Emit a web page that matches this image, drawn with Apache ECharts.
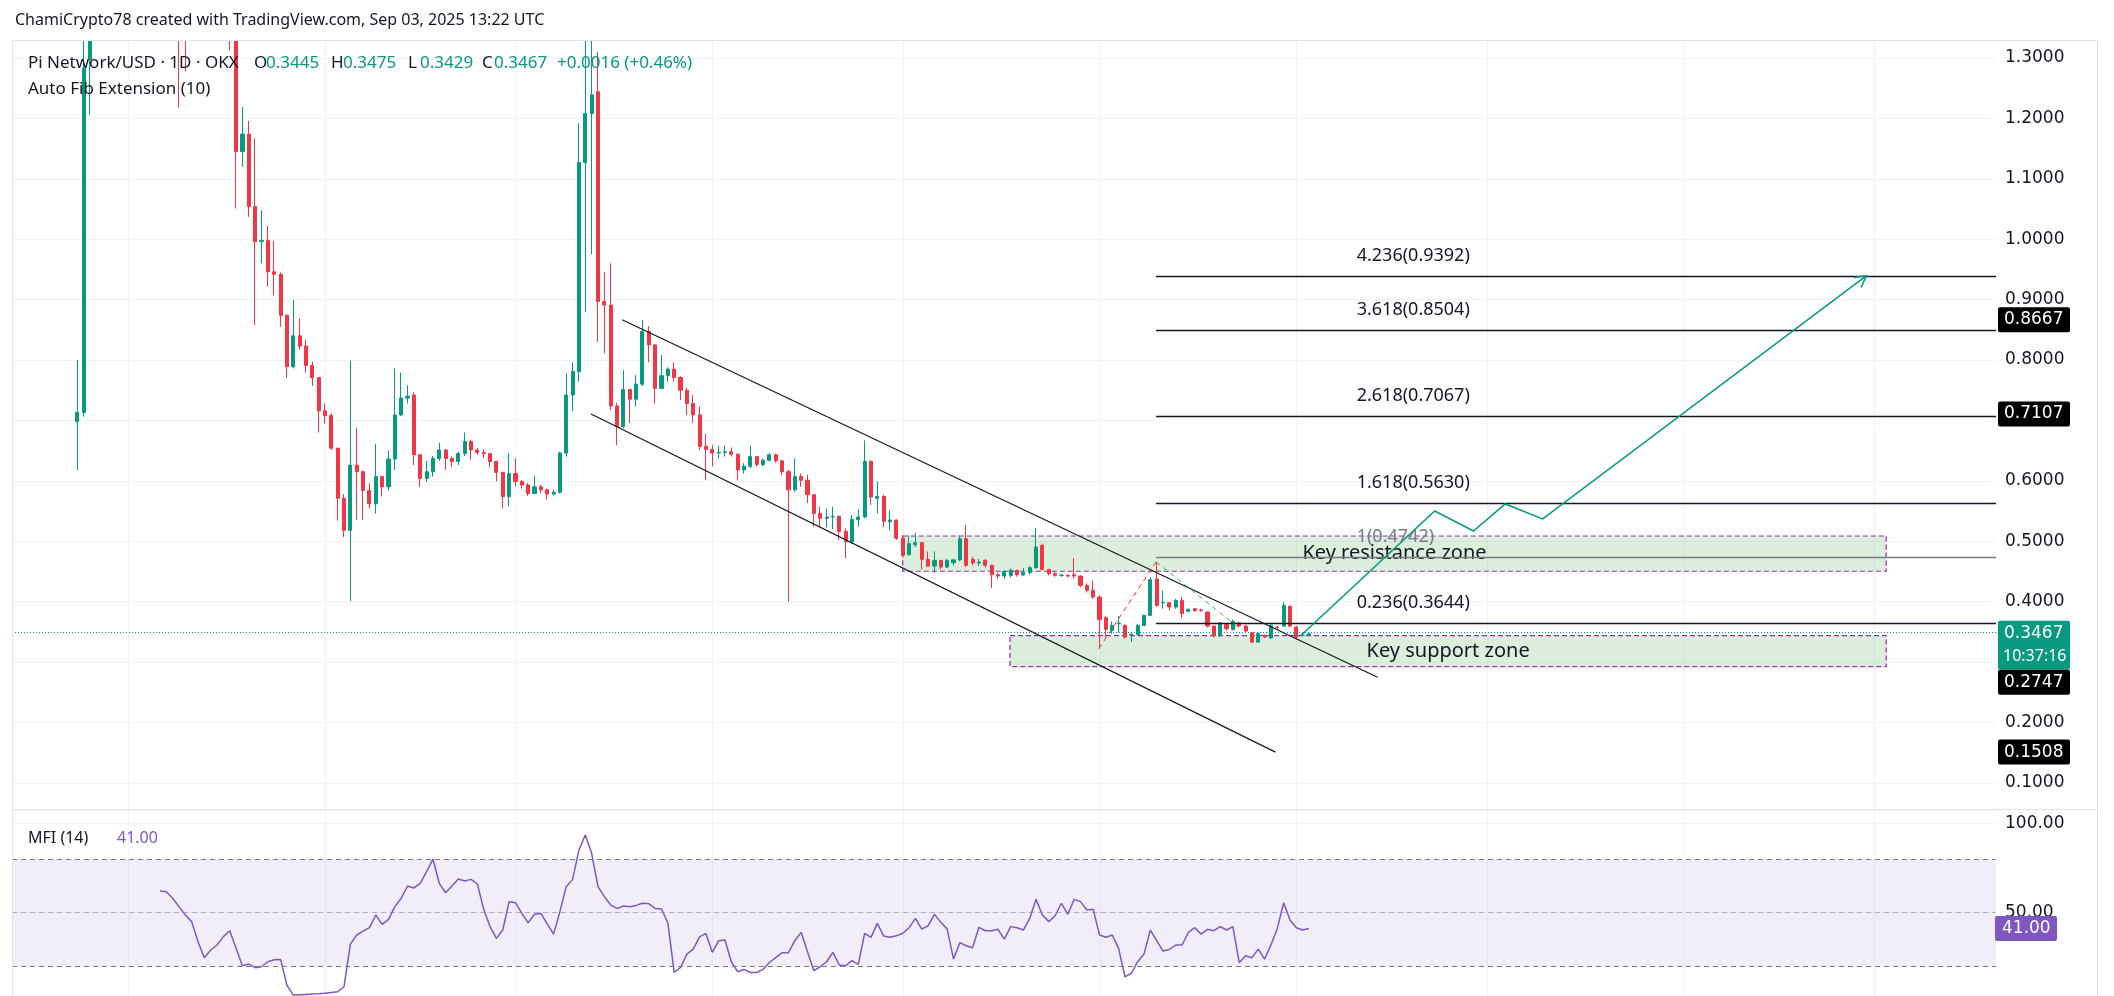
<!DOCTYPE html>
<html>
<head>
<meta charset="utf-8">
<title>Pi Network/USD 1D</title>
<script src="https://cdn.jsdelivr.net/npm/echarts/dist/echarts.min.js"></script>
<style>
  html, body { margin: 0; padding: 0; background: #ffffff; }
  #chart { width: 2114px; height: 996px; }
</style>
</head>
<body>
<div id="chart"></div>
<script>
/* daily candles, index 0 = first bar on the chart */
var opens = [
  0.698, 0.713, 1.297, 1.64, 1.78, 1.61, 2.05, 2.72, 2.15, 1.80,
  2.05, 2.15, 1.98, 1.90, 1.75, 1.62, 1.52, 1.42, 1.38, 1.58,
  1.72, 1.68, 1.56, 1.52, 1.48, 1.40, 1.145, 1.174, 1.054, 0.996,
  0.998, 0.946, 0.942, 0.874, 0.789, 0.840, 0.823, 0.791, 0.771, 0.716,
  0.708, 0.654, 0.571, 0.518, 0.626, 0.615, 0.584, 0.562, 0.607, 0.590,
  0.636, 0.709, 0.737, 0.742, 0.643, 0.604, 0.615, 0.637, 0.651, 0.637,
  0.632, 0.645, 0.665, 0.651, 0.647, 0.645, 0.632, 0.614, 0.574, 0.612,
  0.599, 0.593, 0.579, 0.590, 0.585, 0.578, 0.581, 0.646, 0.742, 0.781,
  1.127, 1.208, 1.244, 0.897, 0.891, 0.724, 0.690, 0.751, 0.735, 0.760,
  0.847, 0.825, 0.753, 0.774, 0.785, 0.771, 0.750, 0.728, 0.709, 0.657,
  0.652, 0.646, 0.647, 0.648, 0.644, 0.618, 0.624, 0.640, 0.627, 0.634,
  0.643, 0.633, 0.615, 0.585, 0.607, 0.601, 0.577, 0.546, 0.538, 0.540,
  0.541, 0.516, 0.499, 0.536, 0.540, 0.632, 0.571, 0.574, 0.532, 0.535,
  0.505, 0.4775, 0.4942, 0.4975, 0.4699, 0.4588, 0.4682, 0.4572, 0.4645, 0.4690,
  0.5041, 0.4700, 0.4638, 0.4682, 0.4600, 0.4445, 0.4423, 0.4434, 0.4517, 0.4440,
  0.4480, 0.4561, 0.4931, 0.4533, 0.4462, 0.4434, 0.4438, 0.4445, 0.4423, 0.4268,
  0.4186, 0.4075, 0.3733, 0.3523, 0.3634, 0.3606, 0.3452, 0.3452, 0.3606, 0.3772,
  0.4373, 0.3981, 0.3981, 0.3910, 0.4020, 0.3838, 0.3882, 0.3860, 0.3827, 0.3595,
  0.3430, 0.3617, 0.3540, 0.3645, 0.3595, 0.3485, 0.3330, 0.3441, 0.3396, 0.3579,
  0.3595, 0.3921, 0.3579, 0.3441, 0.3445
];
var highs = [
  0.800, 1.620, 1.800, 1.850, 1.840, 2.100, 2.990, 2.800, 2.200, 2.150,
  2.300, 2.200, 2.050, 1.950, 1.800, 1.660, 1.580, 1.500, 1.620, 1.780,
  1.800, 1.700, 1.600, 1.550, 1.500, 1.420, 1.219, 1.196, 1.167, 1.048,
  1.022, 0.997, 0.945, 0.875, 0.900, 0.869, 0.834, 0.797, 0.772, 0.728,
  0.712, 0.654, 0.578, 0.799, 0.688, 0.617, 0.596, 0.661, 0.608, 0.650,
  0.786, 0.779, 0.758, 0.747, 0.644, 0.633, 0.641, 0.663, 0.652, 0.640,
  0.648, 0.680, 0.668, 0.654, 0.652, 0.646, 0.632, 0.614, 0.646, 0.637,
  0.601, 0.596, 0.608, 0.593, 0.587, 0.585, 0.648, 0.778, 0.796, 1.192,
  1.420, 1.670, 1.310, 0.946, 0.960, 0.729, 0.783, 0.752, 0.775, 0.866,
  0.856, 0.826, 0.808, 0.788, 0.796, 0.773, 0.754, 0.742, 0.723, 0.678,
  0.659, 0.658, 0.658, 0.655, 0.645, 0.629, 0.658, 0.641, 0.637, 0.646,
  0.645, 0.634, 0.618, 0.637, 0.612, 0.610, 0.577, 0.557, 0.554, 0.557,
  0.543, 0.521, 0.543, 0.553, 0.667, 0.634, 0.599, 0.577, 0.551, 0.536,
  0.510, 0.5096, 0.5135, 0.4985, 0.4831, 0.4831, 0.4690, 0.4710, 0.4710, 0.5096,
  0.5273, 0.4740, 0.4704, 0.4704, 0.4610, 0.4478, 0.4517, 0.4550, 0.4528, 0.4560,
  0.4588, 0.5218, 0.4958, 0.4540, 0.4489, 0.4456, 0.4445, 0.4721, 0.4434, 0.4301,
  0.4351, 0.4103, 0.3761, 0.3672, 0.3761, 0.3620, 0.3496, 0.3634, 0.3786, 0.4400,
  0.4657, 0.4186, 0.3995, 0.4040, 0.4075, 0.3890, 0.3890, 0.3880, 0.3835, 0.3600,
  0.3660, 0.3630, 0.3705, 0.3661, 0.3617, 0.3496, 0.3485, 0.3452, 0.3625, 0.3595,
  0.3993, 0.3937, 0.3595, 0.3474, 0.3475
];
var lows = [
  0.618, 0.706, 1.206, 1.550, 1.520, 1.580, 2.000, 1.950, 1.700, 1.700,
  2.000, 1.900, 1.800, 1.650, 1.550, 1.400, 1.218, 1.278, 1.360, 1.550,
  1.620, 1.500, 1.450, 1.400, 1.313, 1.051, 1.120, 1.037, 0.858, 0.960,
  0.922, 0.907, 0.855, 0.770, 0.786, 0.817, 0.779, 0.757, 0.680, 0.695,
  0.651, 0.534, 0.507, 0.401, 0.535, 0.535, 0.554, 0.546, 0.574, 0.584,
  0.618, 0.707, 0.728, 0.626, 0.590, 0.598, 0.607, 0.633, 0.618, 0.623,
  0.626, 0.641, 0.635, 0.643, 0.638, 0.623, 0.599, 0.554, 0.558, 0.591,
  0.587, 0.575, 0.578, 0.579, 0.569, 0.576, 0.579, 0.640, 0.715, 0.764,
  0.880, 0.975, 0.830, 0.811, 0.717, 0.659, 0.687, 0.696, 0.723, 0.757,
  0.796, 0.728, 0.752, 0.764, 0.764, 0.734, 0.709, 0.696, 0.651, 0.601,
  0.624, 0.637, 0.640, 0.640, 0.601, 0.612, 0.621, 0.623, 0.624, 0.632,
  0.630, 0.610, 0.400, 0.582, 0.590, 0.563, 0.524, 0.523, 0.523, 0.520,
  0.502, 0.472, 0.495, 0.524, 0.538, 0.560, 0.546, 0.523, 0.518, 0.502,
  0.474, 0.4760, 0.4903, 0.4533, 0.4572, 0.4478, 0.4533, 0.4555, 0.4600, 0.4666,
  0.4572, 0.4600, 0.4588, 0.4561, 0.4224, 0.4379, 0.4379, 0.4400, 0.4412, 0.4430,
  0.4445, 0.4544, 0.4517, 0.4434, 0.4412, 0.4412, 0.4401, 0.4379, 0.4240, 0.4150,
  0.4048, 0.3220, 0.3413, 0.3468, 0.3490, 0.3385, 0.3330, 0.3441, 0.3595, 0.3760,
  0.3915, 0.3882, 0.3855, 0.3880, 0.3728, 0.3820, 0.3830, 0.3830, 0.3570, 0.3410,
  0.3420, 0.3520, 0.3520, 0.3570, 0.3490, 0.3310, 0.3313, 0.3396, 0.3390, 0.3540,
  0.3579, 0.3570, 0.3374, 0.3424, 0.3429
];
var closes = [
  0.713, 1.283, 1.640, 1.780, 1.610, 2.050, 2.720, 2.150, 1.800, 2.050,
  2.150, 1.980, 1.900, 1.750, 1.620, 1.520, 1.420, 1.380, 1.580, 1.720,
  1.680, 1.560, 1.520, 1.480, 1.400, 1.145, 1.174, 1.054, 0.996, 0.998,
  0.946, 0.942, 0.874, 0.789, 0.840, 0.823, 0.791, 0.771, 0.716, 0.708,
  0.654, 0.571, 0.518, 0.626, 0.615, 0.584, 0.562, 0.607, 0.590, 0.636,
  0.709, 0.737, 0.740, 0.643, 0.604, 0.615, 0.637, 0.651, 0.637, 0.632,
  0.645, 0.665, 0.651, 0.647, 0.645, 0.632, 0.614, 0.574, 0.612, 0.599,
  0.593, 0.579, 0.590, 0.585, 0.578, 0.581, 0.646, 0.742, 0.781, 1.127,
  1.208, 1.239, 0.897, 0.891, 0.724, 0.690, 0.751, 0.735, 0.760, 0.847,
  0.825, 0.753, 0.774, 0.785, 0.771, 0.750, 0.728, 0.709, 0.657, 0.652,
  0.646, 0.647, 0.648, 0.644, 0.618, 0.624, 0.640, 0.627, 0.634, 0.643,
  0.633, 0.615, 0.585, 0.607, 0.601, 0.577, 0.546, 0.538, 0.540, 0.541,
  0.516, 0.499, 0.536, 0.540, 0.632, 0.573, 0.574, 0.533, 0.535, 0.505,
  0.4765, 0.4958, 0.4975, 0.4699, 0.4588, 0.4682, 0.4572, 0.4682, 0.4690, 0.5041,
  0.4600, 0.4638, 0.4655, 0.4600, 0.4445, 0.4423, 0.4500, 0.4517, 0.4445, 0.4480,
  0.4561, 0.4903, 0.4533, 0.4462, 0.4434, 0.4438, 0.4423, 0.4423, 0.4268, 0.4186,
  0.4075, 0.3705, 0.3540, 0.3606, 0.3645, 0.3413, 0.3458, 0.3606, 0.3772, 0.4362,
  0.3937, 0.3987, 0.3910, 0.4020, 0.3800, 0.3871, 0.3855, 0.3852, 0.3595, 0.3430,
  0.3645, 0.3551, 0.3672, 0.3595, 0.3512, 0.3330, 0.3468, 0.3413, 0.3606, 0.3572,
  0.3937, 0.3595, 0.3413, 0.3445, 0.3467
];

/* MFI(14), first value sits on bar 13 */
var mfiStart = 13;
var mfiValues = [
  62.1, 61.7, 58.0, 53.3, 48.6, 44.9, 33.6, 24.7, 29.0, 31.8,
  36.5, 39.8, 29.9, 20.2, 21.1, 19.1, 19.6, 22.4, 23.5, 23.7,
  9.3, 3.7, 3.9, 4.1, 4.3, 4.5, 4.8, 5.2, 5.6, 8.4,
  32.3, 37.4, 39.6, 41.5, 48.6, 43.4, 46.2, 53.3, 58.0, 64.9,
  63.8, 66.4, 72.9, 80.0, 66.4, 61.1, 64.9, 68.8, 67.7, 68.6,
  66.0, 51.8, 42.1, 35.5, 40.2, 56.1, 55.5, 49.5, 44.3, 49.0,
  49.5, 43.6, 37.9, 50.5, 64.5, 68.6, 85.1, 93.5, 83.2, 64.5,
  58.9, 54.2, 52.3, 53.6, 53.3, 54.0, 55.2, 55.0, 52.3, 52.0,
  44.3, 16.4, 19.2, 26.7, 29.5, 36.4, 38.3, 27.7, 34.2, 34.6,
  22.4, 16.8, 18.1, 16.4, 16.4, 18.1, 22.0, 24.7, 27.5, 27.5,
  34.2, 38.9, 28.0, 17.4, 19.6, 22.4, 27.7, 20.6, 20.2, 23.0,
  20.9, 38.3, 36.1, 43.9, 36.8, 36.1, 37.0, 38.3, 41.5, 46.7,
  40.7, 42.6, 49.0, 44.5, 40.7, 23.9, 33.1, 31.4, 30.3, 41.7,
  39.8, 39.8, 40.6, 35.1, 42.1, 41.5, 40.2, 46.7, 57.4, 48.6,
  44.9, 48.2, 55.2, 49.0, 57.4, 56.1, 51.4, 51.8, 37.4, 36.1,
  37.4, 29.9, 14.0, 15.9, 22.4, 26.7, 40.2, 34.2, 28.4, 29.3,
  31.8, 31.8, 38.9, 41.5, 37.9, 40.6, 39.8, 42.1, 40.2, 42.1,
  21.9, 25.8, 24.7, 29.5, 23.9, 31.8, 41.1, 55.5, 45.8, 41.5,
  40.2, 41.0
];

/* bars where a new month starts (vertical grid) */
var monthStarts = [8, 39, 69, 100, 130, 161, 192, 222, 253, 283];

/* auto fib extension levels */
var fibRatios = ['0.236', '1', '1.618', '2.618', '3.618', '4.236'];
var fibPrices = [0.3644, 0.4742, 0.5630, 0.7067, 0.8504, 0.9392];

/* drawings: [bar, price] */
var channelUpper = [[85.8, 0.8667], [204.8, 0.2747]];
var channelLower = [[80.9, 0.7107], [188.7, 0.1508]];
var fibLegUp = [[160.9, 0.3220], [169.9, 0.4657]];
var fibLegDown = [[169.9, 0.4657], [182.8, 0.3580]];
var projBars = [192.8, 213.8, 219.9, 224.9, 230.8, 281.8];
var projPrices = [0.3447, 0.5500, 0.5169, 0.5616, 0.5368, 0.9396];
var resistanceZone = [[130, 0.5086], [284.9, 0.4502]];
var supportZone = [[146.9, 0.3436], [284.9, 0.2923]];

var lastPrice = 0.3467;
var priceChange = 0.0016;
var priceChangePct = 0.46;
var countdown = '10:37:16';
var lastMfi = 41.00;
var drawingTags = [0.8667, 0.7107, 0.2747, 0.1508];

var GREEN = '#089981';
var RED = '#f23645';
var INK = '#131722';
var GRID = '#f0f3fa';
var BORDER = '#e0e3eb';
var PURPLE = '#7e57c2';
var FONT = '"Noto Sans", "Open Sans", sans-serif';
var SCALE_FONT = '"DejaVu Sans", "Noto Sans", sans-serif';

var self = '';
var chart = null;

var viewConfig = {

	initialize: function () {
		self = this;
		chart = echarts.init(document.getElementById('chart'), null, { renderer: 'canvas' });
		chart.setOption(self.buildOption());
		self.initGraphic();
	},

	/*vertical month lines, one custom series per pane*/
	monthGrid: function (gridIdx) {
		return {
			type: 'custom', xAxisIndex: gridIdx, yAxisIndex: gridIdx, z: 0, silent: true,
			data: monthStarts.map(function (m) { return [m]; }),
			encode: { x: 0 },
			renderItem: function (params, api) {
				var cs = params.coordSys;
				var x = Math.round(api.coord([api.value(0), 0])[0]) + 0.5;
				return {
					type: 'line',
					shape: { x1: x, y1: cs.y, x2: x, y2: cs.y + cs.height },
					style: { stroke: GRID, lineWidth: 1 }
				};
			}
		};
	},

	buildOption: function () {
		var candles = opens.map(function (o, i) {
			return [i, o, closes[i], lows[i], highs[i]];
		});
		var mfi = mfiValues.map(function (v, i) { return [mfiStart + i, v]; });

		var fibFrom = 169.9;
		var fibTextAt = 201.5;

		return {
			animation: false,
			backgroundColor: '#ffffff',
			textStyle: { fontFamily: FONT },
			grid: [
				{ left: 12, right: 118, top: 40, height: 769, outerBoundsMode: 'none' },
				{ left: 12, right: 118, top: 810, height: 186, outerBoundsMode: 'none' }
			],
			xAxis: [
				{ type: 'value', gridIndex: 0, min: -10.3, max: 302.2, show: false },
				{ type: 'value', gridIndex: 1, min: -10.3, max: 302.2, show: false }
			],
			yAxis: [
				{
					type: 'value', gridIndex: 0, position: 'right',
					min: 0.0566, max: 1.3298, splitNumber: 12, minInterval: 0.1, maxInterval: 0.1,
					axisLine: { show: false }, axisTick: { show: false },
					axisLabel: {
						color: INK, fontSize: 17, fontFamily: SCALE_FONT, margin: 9,
						showMinLabel: false, showMaxLabel: false,
						formatter: function (v) { return v.toFixed(4); }
					},
					splitLine: { lineStyle: { color: GRID, width: 1 } }
				},
				{
					type: 'value', gridIndex: 1, position: 'right',
					min: 3.2, max: 107.5, splitNumber: 2, minInterval: 50, maxInterval: 50,
					axisLine: { show: false }, axisTick: { show: false },
					axisLabel: {
						color: INK, fontSize: 17, fontFamily: SCALE_FONT, margin: 9,
						showMinLabel: false, showMaxLabel: false,
						formatter: function (v) { return v.toFixed(2); }
					},
					splitLine: { lineStyle: { color: GRID, width: 1 } }
				}
			],
			series: [
				self.monthGrid(0),
				self.monthGrid(1),
				{
					type: 'candlestick', name: 'PIUSD', xAxisIndex: 0, yAxisIndex: 0, z: 2,
					data: candles, barWidth: 3.6, clip: true, silent: true,
					itemStyle: {
						color: GREEN, color0: RED, borderColor: GREEN, borderColor0: RED,
						borderColorDoji: GREEN, borderWidth: 1
					},
					markLine: {
						silent: true, symbol: 'none', label: { show: false },
						lineStyle: { color: GREEN, type: [1, 2], width: 1.2 },
						data: [{ yAxis: lastPrice }]
					}
				},
				{
					type: 'line', name: 'zones', xAxisIndex: 0, yAxisIndex: 0, z: 3,
					data: [], silent: true,
					markArea: {
						silent: true,
						itemStyle: {
							color: 'rgba(76,175,80,0.2)', borderColor: '#9c27b0',
							borderWidth: 1.2, borderType: [5, 3]
						},
						label: { show: true, position: 'inside', color: INK, fontSize: 20, fontFamily: FONT },
						data: [
							[{ name: 'Key resistance zone', coord: resistanceZone[0] }, { coord: resistanceZone[1] }],
							[{ name: 'Key support zone', coord: supportZone[0] }, { coord: supportZone[1] }]
						]
					}
				},
				{
					type: 'line', xAxisIndex: 0, yAxisIndex: 0, z: 4, silent: true,
					data: channelUpper, symbol: 'none', lineStyle: { color: INK, width: 1.2 }
				},
				{
					type: 'line', xAxisIndex: 0, yAxisIndex: 0, z: 4, silent: true,
					data: channelLower, symbol: 'none', lineStyle: { color: INK, width: 1.2 }
				},
				{
					type: 'line', xAxisIndex: 0, yAxisIndex: 0, z: 4, silent: true,
					data: fibLegUp, symbol: 'none', lineStyle: { color: RED, width: 1, type: [5, 4] }
				},
				{
					type: 'line', xAxisIndex: 0, yAxisIndex: 0, z: 4, silent: true,
					data: fibLegDown, symbol: 'none', lineStyle: { color: '#4caf50', width: 1, type: [5, 4] }
				},
				{
					/*fib extension lines + labels*/
					type: 'custom', xAxisIndex: 0, yAxisIndex: 0, z: 4, silent: true,
					data: fibPrices.map(function (p, i) { return [i, p]; }),
					encode: { x: 0, y: 1 },
					renderItem: function (params, api) {
						var i = api.value(0);
						var p = api.value(1);
						var cs = params.coordSys;
						var a = api.coord([fibFrom, p]);
						var t = api.coord([fibTextAt, p]);
						var y = Math.round(a[1]) + 0.5;
						var color = fibRatios[i] === '1' ? '#787b86' : INK;
						return {
							type: 'group',
							children: [
								{ type: 'line', shape: { x1: a[0], y1: y, x2: cs.x + cs.width, y2: y },
								  style: { stroke: color, lineWidth: 1.5 } },
								{ type: 'text', x: t[0], y: a[1] - 20,
								  style: { text: fibRatios[i] + '(' + p.toFixed(4) + ')', fill: color,
								           fontSize: 18, fontFamily: FONT, align: 'left', verticalAlign: 'middle' } }
							]
						};
					}
				},
				{
					/*projected path with open arrow head*/
					type: 'custom', xAxisIndex: 0, yAxisIndex: 0, z: 5, silent: true,
					data: [[0]], encode: { x: 0 },
					renderItem: function (params, api) {
						var pts = projBars.map(function (b, i) { return api.coord([b, projPrices[i]]); });
						var tip = pts[pts.length - 1];
						var prev = pts[pts.length - 2];
						var ang = Math.atan2(tip[1] - prev[1], tip[0] - prev[0]);
						var len = 13, spread = 0.5;
						var head = [
							[tip[0] - len * Math.cos(ang - spread), tip[1] - len * Math.sin(ang - spread)],
							tip,
							[tip[0] - len * Math.cos(ang + spread), tip[1] - len * Math.sin(ang + spread)]
						];
						return {
							type: 'group',
							children: [
								{ type: 'polyline', shape: { points: pts }, style: { stroke: GREEN, lineWidth: 1.5, fill: null } },
								{ type: 'polyline', shape: { points: head }, style: { stroke: GREEN, lineWidth: 1.5, fill: null } }
							]
						};
					}
				},
				{
					type: 'line', name: 'MFI', xAxisIndex: 1, yAxisIndex: 1, z: 3,
					data: mfi, symbol: 'none', silent: true,
					lineStyle: { color: PURPLE, width: 1.5 },
					markArea: {
						silent: true,
						itemStyle: { color: 'rgba(126,87,194,0.1)' },
						data: [[{ yAxis: 80 }, { yAxis: 20 }]]
					},
					markLine: {
						silent: true, symbol: 'none', label: { show: false },
						data: [
							{ yAxis: 80, lineStyle: { color: '#787b86', type: [5, 4], width: 1 } },
							{ yAxis: 50, lineStyle: { color: 'rgba(120,123,134,0.5)', type: [5, 4], width: 1 } },
							{ yAxis: 20, lineStyle: { color: '#787b86', type: [5, 4], width: 1 } }
						]
					}
				}
			]
		};
	},

	text: function (x, y, str, color, size, family) {
		return {
			type: 'text', x: x, y: y, z: 100, silent: true,
			style: { text: str, fill: color, fontSize: size || 16, fontFamily: family || FONT, align: 'left', verticalAlign: 'middle' }
		};
	},

	hline: function (x1, y1, x2, y2) {
		return {
			type: 'line', z: 99, silent: true,
			shape: { x1: x1, y1: y1, x2: x2, y2: y2 },
			style: { stroke: BORDER, lineWidth: 1 }
		};
	},

	/*labels, legend, right-hand tags*/
	initGraphic: function () {
		var g = [];
		var tagX = 2114 - 118 + 2;

		//candles are not cut at the pane top, cover the strip above it
		g.push({ type: 'rect', z: 98, silent: true, shape: { x: 0, y: 0, width: 2114, height: 40 }, style: { fill: '#ffffff' } });

		g.push(self.hline(12, 40.5, 2098, 40.5));
		g.push(self.hline(12.5, 40, 12.5, 996));
		g.push(self.hline(2097.5, 40, 2097.5, 996));
		g.push(self.hline(12, 809.5, 2098, 809.5));

		g.push(self.text(15, 20, 'ChamiCrypto78 created with TradingView.com, Sep 03, 2025 13:22 UTC', INK, 16));
		g.push(self.text(28, 63, 'Pi Network/USD \u00b7 1D \u00b7 OKX', INK, 17));
		var ohlc = [['O', opens[194], 254], ['H', highs[194], 331], ['L', lows[194], 408], ['C', closes[194], 482]];
		$each(ohlc, function (o) {
			g.push(self.text(o[2], 63, o[0], INK, 17));
			g.push(self.text(o[2] + 12, 63, o[1].toFixed(4), GREEN, 17));
		});
		g.push(self.text(557, 63, '+' + priceChange.toFixed(4) + ' (+' + priceChangePct.toFixed(2) + '%)', GREEN, 17));
		g.push(self.text(28, 89, 'Auto Fib Extension (10)', INK, 17));
		g.push(self.text(28, 838, 'MFI (14)', INK, 16));
		g.push(self.text(117, 838, lastMfi.toFixed(2), PURPLE, 16));

		/*current price tag*/
		var gy = chart.convertToPixel({ yAxisIndex: 0 }, lastPrice);
		var gTop = gy - 13, gBottom = gy + 36;
		g.push({ type: 'rect', z: 100, silent: true, shape: { x: tagX, y: gTop, width: 72, height: gBottom - gTop, r: 2 }, style: { fill: GREEN } });
		g.push(self.text(tagX + 6, gy, lastPrice.toFixed(4), '#ffffff', 17, SCALE_FONT));
		g.push(self.text(tagX + 5, gy + 23, countdown, '#ffffff', 16, FONT));

		/*drawing price tags*/
		$each(drawingTags, function (p) {
			var y = chart.convertToPixel({ yAxisIndex: 0 }, p);
			if (y + 12.5 > gTop && y - 12.5 < gBottom) {
				y = gBottom + 12.5;
			}
			g.push({ type: 'rect', z: 100, silent: true, shape: { x: tagX, y: y - 12.5, width: 72, height: 25, r: 2 }, style: { fill: '#000000' } });
			g.push(self.text(tagX + 6, y, p.toFixed(4), '#ffffff', 17, SCALE_FONT));
		});

		/*mfi tag*/
		var my = chart.convertToPixel({ yAxisIndex: 1 }, lastMfi);
		g.push({ type: 'rect', z: 100, silent: true, shape: { x: tagX - 3, y: my - 12.5, width: 62, height: 25, r: 2 }, style: { fill: PURPLE } });
		g.push(self.text(tagX + 4, my, lastMfi.toFixed(2), '#ffffff', 17, SCALE_FONT));

		chart.setOption({ graphic: g });
	}
};

function $each(arr, fn) {
	for (var i = 0; i < arr.length; i++) fn(arr[i], i);
}

viewConfig.initialize();
</script>
</body>
</html>
